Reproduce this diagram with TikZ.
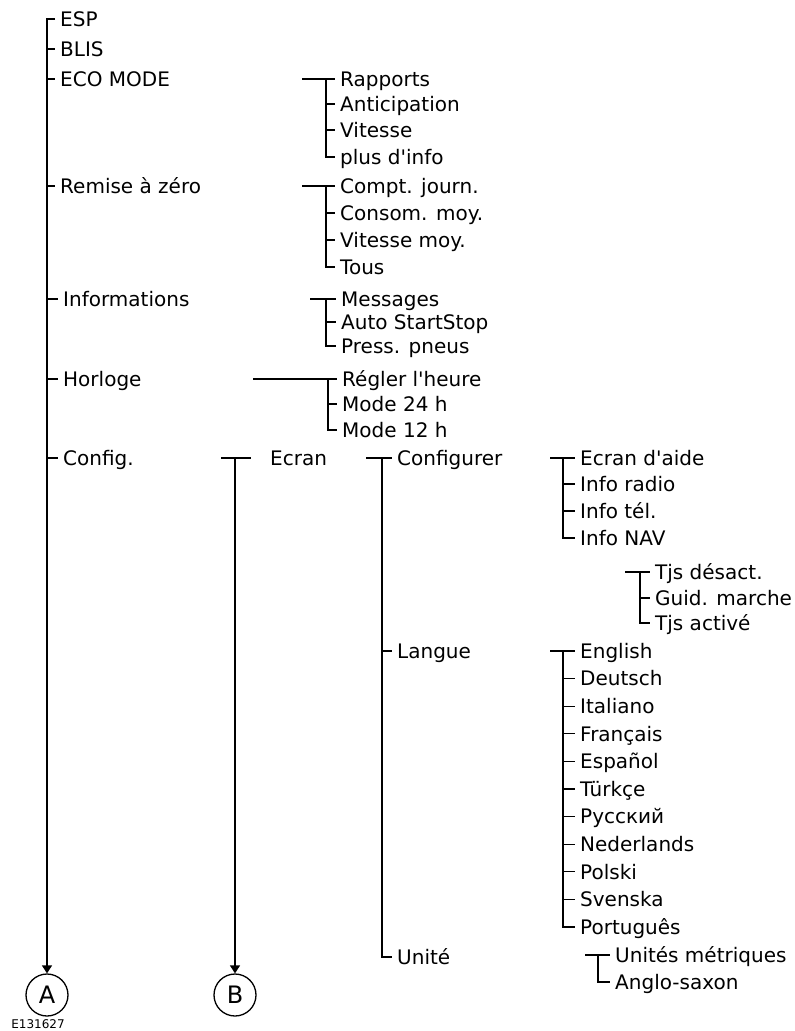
\documentclass[tikz,border=0pt]{standalone}
\usepackage{fontspec}
\setmainfont{DejaVu Sans}[Ligatures=TeXOff]
\usetikzlibrary{arrows.meta,calc}
\tikzset{
    menu entry/.style={
        anchor=west,
        inner xsep=5pt,
        inner ysep=0pt,
        text height=14.4pt,
        text depth=0pt,
        font=\fontsize{20}{22}\selectfont
    },
    menu line/.style={
        line width=1.3pt,
        black
    },
    menu end/.style={
        circle,
        draw,
        line width=1.3pt,
        minimum size=42pt,
        inner sep=0pt,
        font=\fontsize{24}{26}\selectfont
    },
    menu arrow/.style={
        menu line,
        -{Triangle[length=8pt,width=10pt]}
    }
}

\begin{document}
\begin{tikzpicture}[x=1pt,y=-1pt]
    \useasboundingbox (0,0) rectangle (795,1031);

    % first level
    \node[menu entry] (esp) at (55,19) {ESP};
    \node[menu entry] (blis) at (55,49) {BLIS};
    \node[menu entry] (eco) at (55,79) {ECO MODE};
    \node[menu entry] (reset) at (55,186) {Remise à zéro};
    \node[menu entry] (infos) at (58,299) {Informations};
    \node[menu entry] (clock) at (58,379) {Horloge};
    \node[menu entry] (config) at (58,458) {Config.};
    \node[menu end] (A) at (47,995) {A};
    \node[menu end] (B) at (235,995) {B};
    \node[inner sep=0pt, font=\fontsize{12}{14}\selectfont] (code) at (38,1024) {E131627};

    \draw[menu arrow] (esp.west) -| (A);
    \foreach \n in {blis,eco,reset,infos,clock,config}
        \draw[menu line] (\n.west -| A) -- (\n.west);

    % ECO MODE
    \coordinate (ecolead) at (302,79);
    \coordinate (ecobus) at (326,79);
    \node[menu entry] (eco1) at (335,79) {Rapports};
    \node[menu entry] (eco2) at (335,104) {Anticipation};
    \node[menu entry] (eco3) at (335,130) {Vitesse};
    \node[menu entry] (eco4) at (335,157) {plus d'info};
    \draw[menu line] (ecolead) -- (eco1.west);
    \draw[menu line] (ecobus) |- (eco4.west);
    \foreach \n in {eco2,eco3}
        \draw[menu line] (\n.west -| ecobus) -- (\n.west);

    % Remise a zero
    \coordinate (resetlead) at (302,186);
    \coordinate (resetbus) at (326,186);
    \node[menu entry] (reset1) at (335,186) {Compt. journ.};
    \node[menu entry] (reset2) at (335,213) {Consom. moy.};
    \node[menu entry] (reset3) at (335,240) {Vitesse moy.};
    \node[menu entry] (reset4) at (335,267) {Tous};
    \draw[menu line] (resetlead) -- (reset1.west);
    \draw[menu line] (resetbus) |- (reset4.west);
    \foreach \n in {reset2,reset3}
        \draw[menu line] (\n.west -| resetbus) -- (\n.west);

    % Informations
    \coordinate (infoslead) at (310,299);
    \coordinate (infosbus) at (326,299);
    \node[menu entry] (infos1) at (336,299) {Messages};
    \node[menu entry] (infos2) at (336,322) {Auto StartStop};
    \node[menu entry] (infos3) at (336,346) {Press. pneus};
    \draw[menu line] (infoslead) -- (infos1.west);
    \draw[menu line] (infosbus) |- (infos3.west);
    \draw[menu line] (infos2.west -| infosbus) -- (infos2.west);

    % Horloge
    \coordinate (clocklead) at (253,379);
    \coordinate (clockbus) at (328,379);
    \node[menu entry] (clock1) at (337,379) {Régler l'heure};
    \node[menu entry] (clock2) at (337,404) {Mode 24 h};
    \node[menu entry] (clock3) at (337,430) {Mode 12 h};
    \draw[menu line] (clocklead) -- (clock1.west);
    \draw[menu line] (clockbus) |- (clock3.west);
    \draw[menu line] (clock2.west -| clockbus) -- (clock2.west);

    % Config.
    \coordinate (configlead) at (221,458);
    \coordinate (configtail) at (251,458);
    \node[menu entry] (screen) at (265,458) {Ecran};
    \draw[menu line] (configlead) -- (configtail);
    \draw[menu arrow] (configlead -| B) -- (B);

    % Ecran
    \coordinate (screenlead) at (366,458);
    \coordinate (screenbus) at (382,458);
    \node[menu entry] (setup) at (392,458) {Configurer};
    \node[menu entry] (lang) at (392,651) {Langue};
    \node[menu entry] (unit) at (392,957) {Unité};
    \draw[menu line] (screenlead) -- (setup.west);
    \draw[menu line] (screenbus) |- (unit.west);
    \draw[menu line] (lang.west -| screenbus) -- (lang.west);

    % Configurer
    \coordinate (setuplead) at (550,458);
    \coordinate (setupbus) at (563,458);
    \node[menu entry] (setup1) at (575,458) {Ecran d'aide};
    \node[menu entry] (setup2) at (575,484) {Info radio};
    \node[menu entry] (setup3) at (575,511) {Info tél.};
    \node[menu entry] (setup4) at (575,538) {Info NAV};
    \draw[menu line] (setuplead) -- (setup1.west);
    \draw[menu line] (setupbus) |- (setup4.west);
    \foreach \n in {setup2,setup3}
        \draw[menu line] (\n.west -| setupbus) -- (\n.west);

    % Info NAV
    \coordinate (navlead) at (625,572);
    \coordinate (navbus) at (640,572);
    \node[menu entry] (nav1) at (650,572) {Tjs désact.};
    \node[menu entry] (nav2) at (650,598) {Guid. marche};
    \node[menu entry] (nav3) at (650,623) {Tjs activé};
    \draw[menu line] (navlead) -- (nav1.west);
    \draw[menu line] (navbus) |- (nav3.west);
    \draw[menu line] (nav2.west -| navbus) -- (nav2.west);

    % Langue
    \coordinate (langlead) at (550,651);
    \coordinate (langbus) at (563,651);
    \foreach \word [count=\i from 0] in {English,Deutsch,Italiano,Français,Español,Türkçe,Русский,Nederlands,Polski,Svenska,Português}
        \node[menu entry] (lang\i) at (575,651+27.6*\i) {\word};
    \draw[menu line] (langlead) -- (lang0.west);
    \draw[menu line] (langbus) |- (lang10.west);
    \foreach \i in {1,...,9}
        \draw[menu line] (lang\i.west -| langbus) -- (lang\i.west);

    % Unite
    \coordinate (unitlead) at (585,955);
    \coordinate (unitbus) at (598,955);
    \node[menu entry] (unit1) at (610,955) {Unités métriques};
    \node[menu entry] (unit2) at (610,982) {Anglo-saxon};
    \draw[menu line] (unitlead) -- (unit1.west);
    \draw[menu line] (unitbus) |- (unit2.west);
\end{tikzpicture}
\end{document}
